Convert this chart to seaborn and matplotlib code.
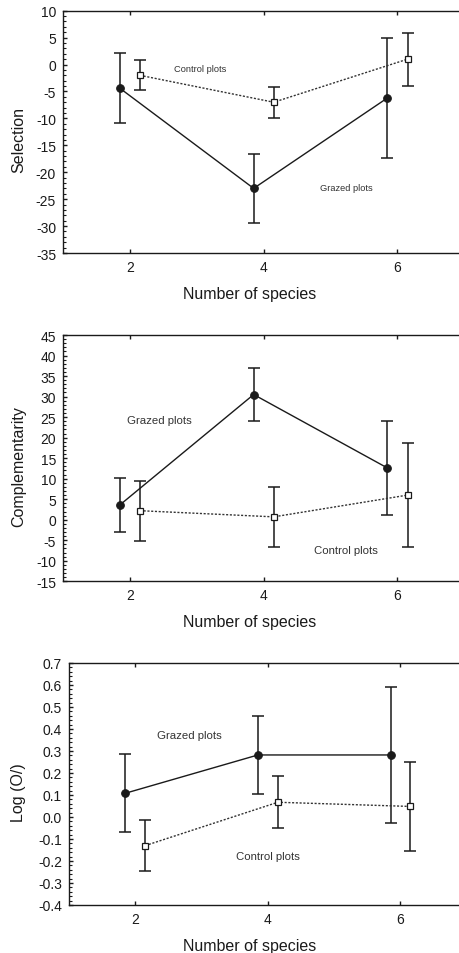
import matplotlib
matplotlib.use("Agg")
import matplotlib.pyplot as plt
from matplotlib.ticker import MultipleLocator, AutoMinorLocator, FormatStrFormatter
import seaborn as sns
import pandas as pd

# ---------------- data ----------------
species = [2, 4, 6]

sel_grazed = [-4.4, -23.0, -6.2]
sel_grazed_err = [6.5, 6.4, 11.2]
sel_control = [-2.0, -7.0, 1.0]
sel_control_err = [2.8, 2.85, 4.95]

comp_grazed = [3.6, 30.5, 12.6]
comp_grazed_err = [6.5, 6.5, 11.4]
comp_control = [2.2, 0.7, 6.0]
comp_control_err = [7.3, 7.3, 12.6]

log_grazed = [0.108, 0.282, 0.282]
log_grazed_err = [0.177, 0.177, 0.307]
log_control = [-0.13, 0.067, 0.048]
log_control_err = [0.117, 0.118, 0.204]

treatments = ["Grazed plots", "Control plots"]
y_labels = ["Selection", "Complementarity", "Log (O/)"]
x_label = "Number of species"

# ---------------- style ----------------
sns.set_theme(style="ticks")
plt.rcParams["font.family"] = ["Liberation Sans", "DejaVu Sans"]
plt.rcParams["axes.unicode_minus"] = False

fig = plt.figure(figsize=(4.6, 9.54), dpi=100)

W, H = 460.0, 954.0
panels = [
    dict(left=63, top=11.7, bottom=254, unit=66.9,
         g=sel_grazed, ge=sel_grazed_err, c=sel_control, ce=sel_control_err,
         ylim=(-35, 10), major=5, fmt="%d", ylabel=y_labels[0],
         texts=[(3.05, -0.8, treatments[1]), (5.24, -22.9, treatments[0])], tfs=6.7),
    dict(left=63, top=336, bottom=582.3, unit=66.9,
         g=comp_grazed, ge=comp_grazed_err, c=comp_control, ce=comp_control_err,
         ylim=(-15, 45), major=5, fmt="%d", ylabel=y_labels[1],
         texts=[(2.44, 24.4, treatments[0]), (5.23, -7.4, treatments[1])], tfs=8.2),
    dict(left=69, top=664, bottom=906, unit=66.3,
         g=log_grazed, ge=log_grazed_err, c=log_control, ce=log_control_err,
         ylim=(-0.4, 0.7), major=0.1, fmt="%.1f", ylabel=y_labels[2],
         texts=[(2.81, 0.373, treatments[0]), (4.0, -0.177, treatments[1])], tfs=8.2),
]

offset = 0.15
ink = "#1a1a1a"

for p in panels:
    width_px = 6 * p["unit"]
    height_px = p["bottom"] - p["top"]
    ax = fig.add_axes([p["left"] / W, (H - p["bottom"]) / H,
                       width_px / W, height_px / H])

    df = pd.DataFrame({
        "species": species * 2,
        "value": p["g"] + p["c"],
        "err": p["ge"] + p["ce"],
        "treatment": [treatments[0]] * 3 + [treatments[1]] * 3,
    })
    df["xpos"] = df["species"] + df["treatment"].map({treatments[0]: -offset,
                                                       treatments[1]: offset})
    dg = df[df["treatment"] == treatments[0]]
    dc = df[df["treatment"] == treatments[1]]

    # error bars
    ax.errorbar(dg["xpos"], dg["value"], yerr=dg["err"], fmt="none",
                ecolor=ink, elinewidth=1.1, capsize=4.2, capthick=1.1, zorder=2)
    ax.errorbar(dc["xpos"], dc["value"], yerr=dc["err"], fmt="none",
                ecolor=ink, elinewidth=1.1, capsize=4.2, capthick=1.1, zorder=2)

    sns.lineplot(data=dg, x="xpos", y="value", ax=ax, color=ink, lw=1.0,
                 marker="o", markersize=5.5, markeredgecolor=ink,
                 markerfacecolor=ink, zorder=3, legend=False)
    sns.lineplot(data=dc, x="xpos", y="value", ax=ax, color="#333333", lw=1.0,
                 linestyle=(0, (1.5, 1.2)), marker="s", markersize=4,
                 markeredgecolor=ink, markerfacecolor="white",
                 markeredgewidth=0.9, zorder=3, legend=False)

    for tx, ty, t in p["texts"]:
        ax.text(tx, ty, t, ha="center", va="center", fontsize=p["tfs"], color="#333333")

    ax.set_xlim(1, 7)
    ax.set_ylim(*p["ylim"])
    ax.set_xticks(species)
    ax.yaxis.set_major_locator(MultipleLocator(p["major"]))
    ax.yaxis.set_minor_locator(AutoMinorLocator(5))
    ax.yaxis.set_major_formatter(FormatStrFormatter(p["fmt"]))

    ax.tick_params(axis="both", which="major", direction="in", length=3, width=1,
                   labelsize=10, labelcolor=ink, color=ink, pad=5)
    ax.tick_params(axis="y", which="minor", direction="in", length=2, width=0.8, color=ink)
    ax.tick_params(axis="x", top=True, which="major")
    ax.tick_params(axis="x", which="major", pad=5)

    for s in ax.spines.values():
        s.set_color(ink)
        s.set_linewidth(1.0)
    ax.spines["right"].set_visible(False)

    ax.set_xlabel(x_label, fontsize=11.5, color=ink)
    ax.set_ylabel(p["ylabel"], fontsize=11.5, color=ink)
    ax.xaxis.set_label_coords((250 - p["left"]) / width_px, -33.0 / height_px)
    ax.yaxis.set_label_coords(-(p["left"] - 26) / width_px, 0.47)
    ax.set_facecolor("white")

fig.patch.set_facecolor("white")
fig.savefig("out.png", dpi=100, facecolor="white")
